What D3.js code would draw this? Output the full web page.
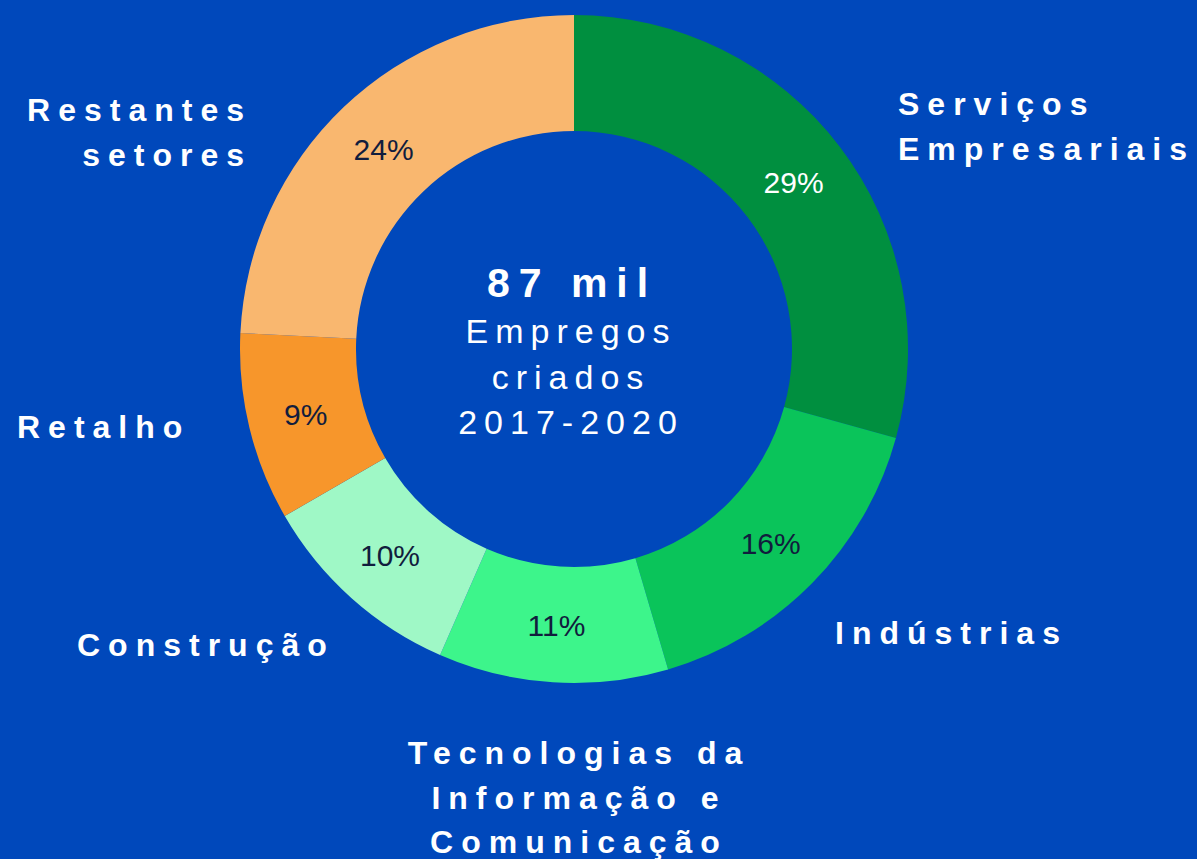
<!DOCTYPE html>
<html>
<head>
<meta charset="utf-8">
<script src="https://cdn.jsdelivr.net/npm/d3@7"></script>
<style>
  html, body { margin: 0; padding: 0; background: #0048bb; }
  svg { display: block; font-family: "Liberation Sans", Arial, sans-serif; }
</style>
</head>
<body>
<svg id="chart" width="1197" height="859"></svg>
<script>
// data
var sectors = ["Serviços Empresariais", "Indústrias", "Tecnologias da Informação e Comunicação",
               "Construção", "Retalho", "Restantes setores"];
var shares = [29, 16, 11, 10, 9, 24];
var labelLines = [
  ["Serviços", "Empresariais"],
  ["Indústrias"],
  ["Tecnologias da", "Informação e", "Comunicação"],
  ["Construção"],
  ["Retalho"],
  ["Restantes", "setores"]
];
var centerTitle = "87 mil";
var centerLines = ["Empregos", "criados", "2017-2020"];

// styles / layout
var sliceColors = ["#008f3f", "#0ac45a", "#3df58b", "#9ff8c6", "#f7962b", "#f9b76f"];
var pctColors = ["#ffffff", "#111d3d", "#111d3d", "#111d3d", "#111d3d", "#111d3d"];
var labelPos = [
  {x: 898, y: 115, anchor: "start"},
  {x: 835, y: 644, anchor: "start"},
  {x: 575, y: 764, anchor: "middle"},
  {x: 77, y: 656, anchor: "start"},
  {x: 17, y: 438, anchor: "start"},
  {x: 244, y: 121, anchor: "end"}
];

var cx = 574, cy = 349;
var outerR = 334, innerR = 218;
var lineGap = 44.5;
var ls = 8;

var svg = d3.select("#chart");
var g = svg.append("g").attr("transform", "translate(" + cx + "," + cy + ")");

var pie = d3.pie().sort(null).value(function(d) { return d; });
var arc = d3.arc().innerRadius(innerR).outerRadius(outerR);
var arcs = pie(shares);

g.selectAll("path.slice")
  .data(arcs)
  .enter().append("path")
  .attr("class", "slice")
  .attr("d", arc)
  .style("fill", function(d, i) { return sliceColors[i]; });

// percent labels
g.selectAll("text.pct")
  .data(arcs)
  .enter().append("text")
  .attr("class", "pct")
  .attr("transform", function(d) { return "translate(" + arc.centroid(d) + ")"; })
  .attr("dy", "0.37em")
  .attr("text-anchor", "middle")
  .style("font-size", "30px")
  .style("fill", function(d, i) { return pctColors[i]; })
  .text(function(d) { return d.data + "%"; });

// sector labels
labelLines.forEach(function(lines, i) {
  var p = labelPos[i];
  var shift = p.anchor === "end" ? ls : (p.anchor === "middle" ? ls / 2 : 0);
  var t = svg.append("text")
    .attr("text-anchor", p.anchor)
    .style("font-size", "32px")
    .style("font-weight", "bold")
    .style("letter-spacing", ls + "px")
    .style("fill", "#fff");
  lines.forEach(function(line, j) {
    t.append("tspan")
      .attr("x", p.x + shift)
      .attr("y", p.y + j * lineGap)
      .text(line);
  });
});

// center text
g.append("text")
  .attr("x", -2)
  .attr("y", -52)
  .attr("text-anchor", "middle")
  .style("font-size", "41px")
  .style("font-weight", "bold")
  .style("letter-spacing", "9px")
  .style("fill", "#fff")
  .text(centerTitle);

g.selectAll("text.sub")
  .data(centerLines)
  .enter().append("text")
  .attr("class", "sub")
  .attr("x", -3)
  .attr("y", function(d, i) { return -6 + i * 45.5; })
  .attr("text-anchor", "middle")
  .style("font-size", "34px")
  .style("letter-spacing", "7px")
  .style("fill", "#fff")
  .text(function(d) { return d; });
</script>
</body>
</html>
